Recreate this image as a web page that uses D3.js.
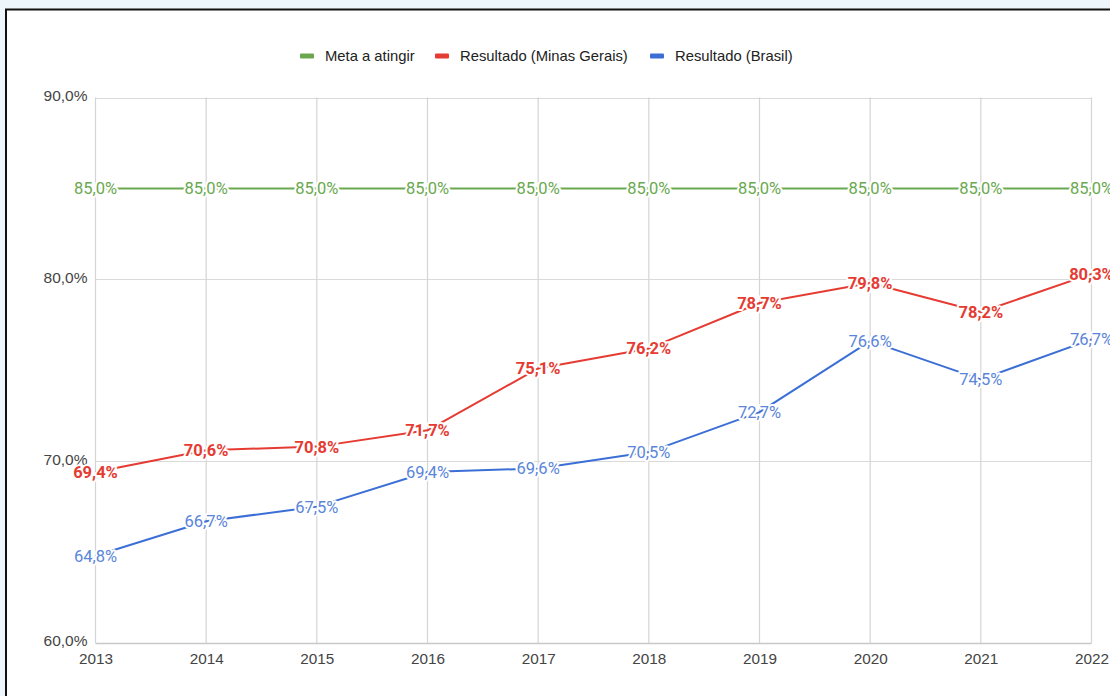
<!DOCTYPE html>
<html>
<head>
<meta charset="utf-8">
<script src="https://cdn.jsdelivr.net/npm/d3@7"></script>
<style>
  html, body { margin: 0; padding: 0; background: #eef5fb; }
  svg { display: block; }
</style>
</head>
<body>
<svg id="chart" width="1110" height="696"></svg>
<script>
// Taxa por ano: meta, Minas Gerais e Brasil
const years = [2013, 2014, 2015, 2016, 2017, 2018, 2019, 2020, 2021, 2022];
const meta = [85.0, 85.0, 85.0, 85.0, 85.0, 85.0, 85.0, 85.0, 85.0, 85.0];
const minasGerais = [69.4, 70.6, 70.8, 71.7, 75.1, 76.2, 78.7, 79.8, 78.2, 80.3];
const brasil = [64.8, 66.7, 67.5, 69.4, 69.6, 70.5, 72.7, 76.6, 74.5, 76.7];
const yTicks = [60, 70, 80, 90];

const seriesNames = ["Meta a atingir", "Resultado (Minas Gerais)", "Resultado (Brasil)"];
const seriesColors = ["#6aa84f", "#e53b32", "#3c6fd6"];
const labelColors = ["#6aa84f", "#e53b32", "#5a85d9"];
const labelWeights = ["normal", "bold", "normal"];

const fmt = v => v.toFixed(1).replace(".", ",") + "%";

const svg = d3.select("#chart");

// painel branco com borda
svg.append("rect")
  .attr("x", 6).attr("y", 9.5)
  .attr("width", 1200).attr("height", 800)
  .attr("fill", "#ffffff")
  .attr("stroke", "#111").attr("stroke-width", 2);

const x = d3.scalePoint().domain(years).range([95.5, 1091.5]);
const y = d3.scaleLinear().domain([60, 90]).range([643, 97.5]);

// grade horizontal
svg.append("g")
  .selectAll("line")
  .data(yTicks)
  .join("line")
  .attr("x1", 95.5).attr("x2", 1091.5)
  .attr("y1", d => Math.round(y(d)) + 0.5)
  .attr("y2", d => Math.round(y(d)) + 0.5)
  .attr("stroke", d => d === 60 ? "#c8c8c8" : "#dadada")
  .attr("stroke-width", d => d === 60 ? 1.5 : 1);

// grade vertical
svg.append("g")
  .selectAll("line")
  .data(years)
  .join("line")
  .attr("x1", d => x(d)).attr("x2", d => x(d))
  .attr("y1", 97.5).attr("y2", 643)
  .attr("stroke", "#d4d4d4")
  .attr("stroke-width", 1.2);

// eixo Y
const yAxis = d3.axisLeft(y).tickValues(yTicks).tickSize(0).tickPadding(8)
  .tickFormat(fmt);
svg.append("g")
  .attr("transform", "translate(95.5,-2)")
  .call(yAxis)
  .call(g => g.select(".domain").remove())
  .selectAll("text")
  .attr("font-family", "'Liberation Sans', Arial, sans-serif")
  .attr("font-size", 15.5)
  .attr("fill", "#444");

// eixo X
const xAxis = d3.axisBottom(x).tickSize(0).tickPadding(10).tickFormat(d => String(d));
svg.append("g")
  .attr("transform", "translate(0,643)")
  .call(xAxis)
  .call(g => g.select(".domain").remove())
  .selectAll("text")
  .attr("font-family", "'Liberation Sans', Arial, sans-serif")
  .attr("font-size", 15.3)
  .attr("fill", "#444");

const series = [meta, minasGerais, brasil];
const line = d3.line().x((d, i) => x(years[i])).y(d => y(d));

// linhas
svg.append("g")
  .selectAll("path")
  .data(series)
  .join("path")
  .attr("d", d => line(d))
  .attr("fill", "none")
  .attr("stroke", (d, i) => seriesColors[i])
  .attr("stroke-width", 2)
  .attr("stroke-linejoin", "round");

// rótulos de valores
series.forEach((vals, si) => {
  svg.append("g")
    .selectAll("text")
    .data(vals)
    .join("text")
    .attr("x", (d, i) => x(years[i]))
    .attr("y", d => y(d))
    .attr("dy", "0.36em")
    .attr("text-anchor", "middle")
    .attr("font-family", "Roboto, 'Open Sans', sans-serif")
    .attr("font-size", 16.5)
    .attr("font-weight", labelWeights[si])
    .attr("fill", labelColors[si])
    .attr("stroke", "#ffffff")
    .attr("stroke-width", 4)
    .attr("stroke-linejoin", "round")
    .attr("paint-order", "stroke")
    .text(d => fmt(d));
});

// legenda
const legendX = [300, 435, 650];
const legend = svg.append("g").attr("transform", "translate(0,56)");
seriesNames.forEach((name, i) => {
  legend.append("rect")
    .attr("x", legendX[i]).attr("y", -2.5)
    .attr("width", 14).attr("height", 5)
    .attr("rx", 1)
    .attr("fill", seriesColors[i]);
  legend.append("text")
    .attr("x", legendX[i] + 25).attr("y", 0)
    .attr("dy", "0.35em")
    .attr("font-family", "'Liberation Sans', Arial, sans-serif")
    .attr("font-size", 14.8)
    .attr("fill", "#222")
    .text(name);
});
</script>
</body>
</html>
